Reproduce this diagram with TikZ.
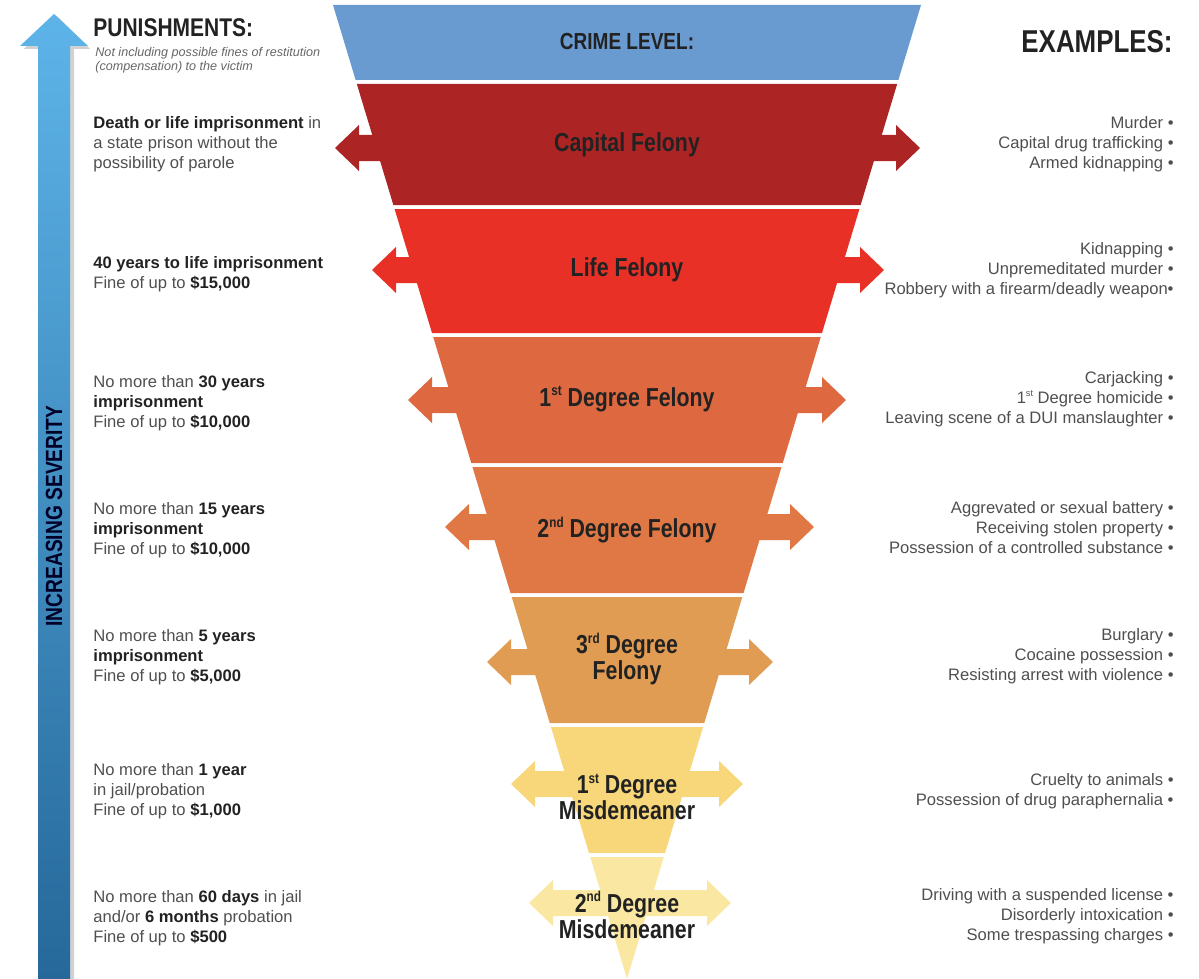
\documentclass[tikz,border=0pt]{standalone}
\usepackage{fontspec}
\usepackage{graphicx}
\setmainfont{Liberation Sans}
\newfontfamily\headfont[FakeStretch=0.82]{Liberation Sans}
\definecolor{crimeblue}{HTML}{6A9BD0}
\definecolor{capital}{HTML}{AD2424}
\definecolor{life}{HTML}{E83026}
\definecolor{first}{HTML}{DE6840}
\definecolor{second}{HTML}{E07845}
\definecolor{third}{HTML}{E09C52}
\definecolor{misda}{HTML}{F8D67A}
\definecolor{misdb}{HTML}{FAE8A2}
\definecolor{sevtop}{HTML}{5DB4E8}
\definecolor{sevbot}{HTML}{26689A}
\definecolor{txtdark}{HTML}{222222}
\definecolor{txtgrey}{HTML}{4F4F4F}
\newcommand\fett[1]{\textbf{\color{txtdark}#1}}
\newcommand\hoch[1]{\raisebox{0.75ex}{\scalebox{0.55}{#1}}}
\tikzstyle{header}=[font=\headfont\bfseries, text=txtdark, inner sep=0pt]
\tikzstyle{bandlabel}=[font=\headfont\bfseries\fontsize{13}{10.5}\selectfont, text=txtdark, align=center, inner sep=0pt]
\tikzstyle{punish}=[font=\fontsize{8.3}{10}\selectfont, text=txtgrey, align=left, anchor=west, inner sep=0pt]
\tikzstyle{example}=[font=\fontsize{8.3}{10}\selectfont, text=txtgrey, align=right, anchor=east, inner sep=0pt]

\begin{document}
\begin{tikzpicture}[x=0.5pt,y=-0.5pt]
			% Rahmen festlegen
			\useasboundingbox (0,0) rectangle (1199,979);
			% Pfeil links zeichnen
			\fill[black!18] (41,979) -- (41,49) -- (24,49) -- (57,16) -- (90,49) -- (74,49) -- (74,979) -- cycle;
			\shade[top color=sevtop,bottom color=sevbot] (38,979) -- (38,46) -- (20,46) -- (54,14) -- (88,46) -- (70,46) -- (70,979) -- cycle;
			\node[header, rotate=90, font=\headfont\bfseries\fontsize{11.7}{12}\selectfont, text=black!85!blue] (sev) at (54,516) {INCREASING SEVERITY};
			% Doppelpfeile zeichnen
			\foreach \y/\xl/\xr/\col in {148/335/920/capital, 270/372/884/life, 400/408/846/first, 527/445/814/second, 662/487/773/third, 784/511/743/misda, 903/529/731/misdb}
				\fill[\col] (\xl,\y) -- ++(24,-23) -- ++(0,10) -- (\xr-24,\y-13) -- ++(0,-10) -- (\xr,\y) -- ++(-24,23) -- ++(0,-10) -- (\xl+24,\y+13) -- ++(0,10) -- cycle;
			% Trichter zeichnen
			\foreach \ya/\yb/\col in {5/80/crimeblue, 84/205/capital, 209/333/life, 337/463/first, 467/593/second, 597/723/third, 727/853/misda, 857/979/misdb}{
				\pgfmathsetmacro\wa{0.30185*(979-\ya)}
				\pgfmathsetmacro\wb{0.30185*(979-\yb)}
				\fill[\col] (627-\wa,\ya) -- (627+\wa,\ya) -- (627+\wb,\yb) -- (627-\wb,\yb) -- cycle;
			}
			% Ueberschriften
			\node[header, anchor=west, font=\headfont\bfseries\fontsize{12.8}{13}\selectfont] (pun) at (93,28) {PUNISHMENTS:};
			\node[anchor=west, inner sep=0pt, align=left, text=black!60, font=\itshape\fontsize{6.3}{7}\selectfont] (note) at (95,60) {Not including possible fines of restitution\\(compensation) to the victim};
			\node[header, font=\headfont\bfseries\fontsize{11.6}{12}\selectfont] (level) at (627,42) {CRIME LEVEL:};
			\node[header, anchor=east, font=\headfont\bfseries\fontsize{15.8}{16}\selectfont] (ex) at (1173,42) {EXAMPLES:};
			% Stufen beschriften
			\node[bandlabel] (cap) at (627,145) {Capital Felony};
			\node[bandlabel] (lif) at (627,270) {Life Felony};
			\node[bandlabel] (fel1) at (627,399) {1\hoch{st} Degree Felony};
			\node[bandlabel] (fel2) at (627,530) {2\hoch{nd} Degree Felony};
			\node[bandlabel] (fel3) at (627,659) {3\hoch{rd} Degree\\Felony};
			\node[bandlabel] (mis1) at (627,797) {1\hoch{st} Degree\\Misdemeaner};
			\node[bandlabel] (mis2) at (627,915) {2\hoch{nd} Degree\\Misdemeaner};
			% Strafen links
			\node[punish] (p1) at (93,144) {\fett{Death or life imprisonment} in\\a state prison without the\\possibility of parole};
			\node[punish] (p2) at (93,274) {\fett{40 years to life imprisonment}\\Fine of up to \fett{\$15,000}};
			\node[punish] (p3) at (93,403) {No more than \fett{30 years}\\\fett{imprisonment}\\Fine of up to \fett{\$10,000}};
			\node[punish] (p4) at (93,530) {No more than \fett{15 years}\\\fett{imprisonment}\\Fine of up to \fett{\$10,000}};
			\node[punish] (p5) at (93,657) {No more than \fett{5 years}\\\fett{imprisonment}\\Fine of up to \fett{\$5,000}};
			\node[punish] (p6) at (93,791) {No more than \fett{1 year}\\in jail/probation\\Fine of up to \fett{\$1,000}};
			\node[punish] (p7) at (93,918) {No more than \fett{60 days} in jail\\and/or \fett{6 months} probation\\Fine of up to \fett{\$500}};
			% Beispiele rechts
			\node[example] (e1) at (1174,144) {Murder •\\Capital drug trafficking •\\Armed kidnapping •};
			\node[example] (e2) at (1174,270) {Kidnapping •\\Unpremeditated murder •\\Robbery with a firearm/deadly weapon•};
			\node[example] (e3) at (1174,399) {Carjacking •\\1\hoch{st} Degree homicide •\\Leaving scene of a DUI manslaughter •};
			\node[example] (e4) at (1174,528) {Aggrevated or sexual battery •\\Receiving stolen property •\\Possession of a controlled substance •};
			\node[example] (e5) at (1174,656) {Burglary •\\Cocaine possession •\\Resisting arrest with violence •};
			\node[example] (e6) at (1174,791) {Cruelty to animals •\\Possession of drug paraphernalia •};
			\node[example] (e7) at (1174,916) {Driving with a suspended license •\\Disorderly intoxication •\\Some trespassing charges •};
		\end{tikzpicture}
\end{document}
